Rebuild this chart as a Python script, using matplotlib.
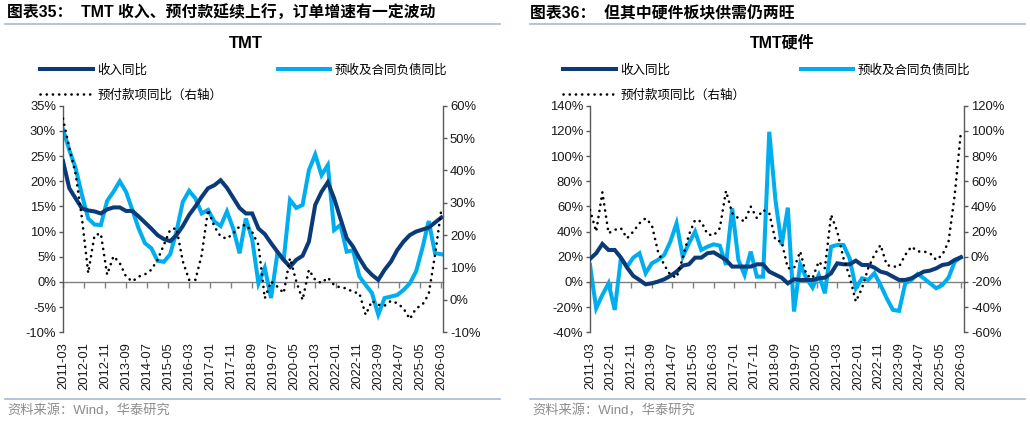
import matplotlib
matplotlib.use("Agg")
import matplotlib.pyplot as plt
import numpy as np
from matplotlib.lines import Line2D
from matplotlib.ticker import FuncFormatter

plt.rcParams["font.family"] = ["Liberation Sans", "Noto Sans CJK SC"]

# quarterly observations, 2011-03 .. 2026-03 (x = months since 2011-03)
n_q = 61
x_months = np.arange(n_q) * 3
tick_labels = ["2011-03", "2012-01", "2012-11", "2013-09", "2014-07", "2015-05",
               "2016-03", "2017-01", "2017-11", "2018-09", "2019-07", "2020-05",
               "2021-03", "2022-01", "2022-11", "2023-09", "2024-07", "2025-05",
               "2026-03"]
tick_pos = np.arange(len(tick_labels)) * 10

# TMT
tmt_rev = [24.0, 18.6, 16.6, 14.6, 14.2, 14.0, 13.6, 14.4, 14.8, 14.8, 14.1, 14.1,
           13.0, 11.8, 10.6, 9.3, 8.5, 8.1, 9.3, 11.1, 13.3, 15.0, 16.9, 18.6,
           19.2, 20.2, 18.7, 16.7, 14.7, 13.6, 13.6, 10.6, 9.5, 7.7, 6.0, 4.4,
           3.0, 4.4, 5.2, 8.0, 15.3, 17.9, 19.8, 16.6, 12.6, 8.7, 7.0, 4.7,
           2.7, 1.4, 0.4, 2.4, 4.0, 6.3, 8.0, 9.3, 10.0, 10.4, 10.8, 11.8, 12.8]
tmt_adv = [30.3, 26.2, 22.6, 17.3, 12.6, 11.4, 11.3, 16.1, 17.9, 20.0, 17.9, 14.3,
           10.6, 7.7, 6.7, 4.2, 4.0, 5.5, 10.0, 15.9, 18.1, 16.6, 13.6, 14.3,
           12.0, 11.1, 14.0, 10.6, 5.7, 12.6, 8.5, -0.3, 2.8, -3.2, 5.7, 4.4,
           16.3, 14.7, 15.3, 22.2, 25.3, 21.2, 23.2, 10.3, 11.3, 6.0, 6.3, 1.1,
           -0.6, -2.2, -6.5, -3.2, -2.9, -2.6, -1.6, -0.3, 2.1, 6.7, 12.1, 5.7, 5.5]
tmt_prepay = [56.0, 47.0, 39.0, 25.3, 8.3, 20.0, 20.5, 7.8, 13.5, 11.4, 7.2, 5.7,
              7.2, 7.9, 9.3, 12.4, 17.0, 21.7, 22.2, 11.9, 6.2, 6.2, 13.9, 27.9,
              22.7, 19.6, 18.9, 20.6, 22.7, 23.2, 21.0, 17.0, 0.5, 5.7, 4.1, 2.1,
              12.9, 5.7, 0.0, 9.3, 6.2, 5.2, 6.9, 4.6, 3.8, 3.6, 2.4, 2.1,
              -4.6, -0.3, -1.5, -1.8, -0.3, -1.0, -2.6, -5.9, -2.6, -1.5, 1.8, 13.9, 27.9]

# TMT hardware
hw_rev = [18.3, 22.8, 30.2, 25.4, 25.4, 19.3, 11.4, 4.8, 1.6, -1.9, -1.1, 0.3,
          2.1, 4.8, 8.2, 13.0, 14.0, 19.3, 19.3, 22.8, 23.5, 20.6, 17.5, 12.2,
          12.2, 12.2, 12.2, 14.0, 14.0, 8.2, 5.8, 3.4, -1.1, 2.1, 1.6, 1.6,
          1.6, 2.9, 3.4, 6.9, 14.8, 14.0, 14.0, 16.9, 13.5, 13.5, 11.4, 8.2,
          6.9, 4.2, 1.6, 1.6, 2.9, 5.6, 8.2, 9.0, 10.8, 13.5, 14.3, 17.5, 19.6]
hw_adv = [13.5, -20.9, -10.3, -1.1, -22.2, 18.8, 12.2, 19.3, 22.8, 6.9, 14.8, 17.5,
          21.4, 32.0, 46.6, 20.1, 30.7, 40.0, 25.4, 28.0, 29.9, 28.8, 13.5, 58.5,
          17.5, 5.6, 24.1, 4.2, 4.2, 119.3, 65.0, 29.4, 59.0, -23.5, 14.0, 2.9,
          -4.5, 5.6, -9.0, 28.0, 29.4, 29.4, 18.8, -5.0, 2.9, 1.6, 6.9, -2.4,
          -13.0, -22.2, -23.0, -1.1, 1.6, 6.3, 2.9, -1.1, -5.0, -2.4, 3.4, 16.1, 19.6]
hw_prepay = [37.2, 20.0, 51.2, 18.7, 21.4, 22.7, 14.7, 20.0, 26.6, 30.6, 25.3, 4.1,
             -6.5, -14.4, -16.6, -1.1, 17.4, 29.3, 28.0, 17.9, 16.9, 22.7, 52.3, 34.6,
             30.6, 28.0, 39.9, 30.6, 37.2, 34.6, 13.0, 12.0, -9.1, -9.1, 4.2, -14.4,
             -17.0, -3.8, -9.1, 33.3, 20.0, -1.1, -15.7, -35.6, -25.0, -9.1, 1.5, 9.4,
             -6.5, -7.8, -7.8, 1.5, 8.1, 4.2, 4.2, 2.8, -2.5, 1.5, 12.1, 49.1, 99.4]

DARK = "#0B3A78"
LIGHT = "#00AEEF"
DOTS = (0, (0.05, 2.3))
W, H = 1030, 424
pct = FuncFormatter(lambda v, _: f"{v:.0f}%")


def fy(py):
    return 1 - py / H


def panel(rect, rev, adv, prepay, lylim, lstep, rylim, rstep, xmax):
    ax = fig.add_axes(rect)
    ax.plot(x_months, rev, color=DARK, lw=2.9, solid_joinstyle="miter", zorder=3)
    ax.plot(x_months, adv, color=LIGHT, lw=2.9, solid_joinstyle="miter", zorder=2)
    ax.set_xlim(0, xmax)
    ax.set_ylim(*lylim)
    ax.set_yticks(np.arange(lylim[0], lylim[1] + 0.1, lstep))
    ax.yaxis.set_major_formatter(pct)
    for s in ("top", "right", "bottom"):
        ax.spines[s].set_visible(False)
    ax.spines["left"].set_color("#595959")
    ax.spines["left"].set_linewidth(1.0)
    ax.set_xticks(tick_pos)
    ax.set_xticklabels(tick_labels, rotation=90)
    ax.tick_params(axis="x", length=0, pad=7, labelsize=9.4, colors="#1a1a1a")
    ax.tick_params(axis="y", length=3, width=1, color="#595959", labelsize=9.4,
                   labelcolor="#1a1a1a", pad=2)

    # zero line carrying the date ticks
    zero_frac = (0 - lylim[0]) / (lylim[1] - lylim[0])
    sec = ax.secondary_xaxis(zero_frac)
    sec.set_xticks(tick_pos)
    sec.tick_params(axis="x", direction="out", length=4, width=1, color="#808080",
                    labelbottom=False, labeltop=False)
    sec.spines["bottom"].set_color("#808080")
    sec.spines["bottom"].set_linewidth(1.0)

    axr = ax.twinx()
    axr.plot(x_months, prepay, color="black", lw=1.9, ls=DOTS,
             dash_capstyle="round")
    axr.set_ylim(*rylim)
    axr.set_yticks(np.arange(rylim[0], rylim[1] + 0.1, rstep))
    axr.yaxis.set_major_formatter(pct)
    for s in ("top", "left", "bottom"):
        axr.spines[s].set_visible(False)
    axr.spines["right"].set_color("#595959")
    axr.spines["right"].set_linewidth(1.0)
    axr.tick_params(axis="y", length=3, width=1, color="#595959", labelsize=9.4,
                    labelcolor="#1a1a1a", pad=2)
    return ax


fig = plt.figure(figsize=(W / 100, H / 100), dpi=100)

bottom = (H - 332.3) / H
height = (332.3 - 105.7) / H
panel([63 / W, bottom, 380 / W, height], tmt_rev, tmt_adv, tmt_prepay,
      (-10, 35), 5, (-10, 60), 10, 180.8)
panel([590 / W, bottom, 374 / W, height], hw_rev, hw_adv, hw_prepay,
      (-40, 140), 20, (-60, 120), 20, 181.5)

# headers, rules and sources
headers = [(7, "图表35：  TMT 收入、预付款延续上行，订单增速有一定波动"),
           (530, "图表36：  但其中硬件板块供需仍两旺")]
for x0, txt in headers:
    fig.text(x0 / W, fy(13), txt, fontsize=11.4, fontweight="bold", va="center")
for x0, x1 in [(5, 500), (530, 1025)]:
    for yy in (24, 399):
        fig.add_artist(Line2D([x0 / W, x1 / W], [fy(yy), fy(yy)],
                              color="#A7BACF", lw=1.2))
for x0 in (7, 532):
    fig.text(x0 / W, fy(411), "资料来源：Wind，华泰研究", fontsize=9.5,
             color="#8C8C8C", va="center")

fig.text(246 / W, fy(43), "TMT", fontsize=12, fontweight="bold", ha="center", va="center")
fig.text(782 / W, fy(43), "TMT硬件", fontsize=11.5, fontweight="bold", ha="center", va="center")

# legends
names = ["收入同比", "预付款项同比（右轴）", "预收及合同负债同比"]
for x0 in (40, 563):
    handles = [Line2D([], [], color=DARK, lw=2.9),
               Line2D([], [], color="black", lw=1.9, ls=DOTS, dash_capstyle="round"),
               Line2D([], [], color=LIGHT, lw=2.9)]
    fig.legend(handles, names, ncol=2, loc="upper left",
               bbox_to_anchor=(x0 / W, fy(64)), frameon=False, fontsize=9,
               handlelength=4.2, handletextpad=0.4, columnspacing=4.4,
               labelspacing=1.05, borderpad=0, borderaxespad=0)

fig.savefig("out.png", dpi=100)
